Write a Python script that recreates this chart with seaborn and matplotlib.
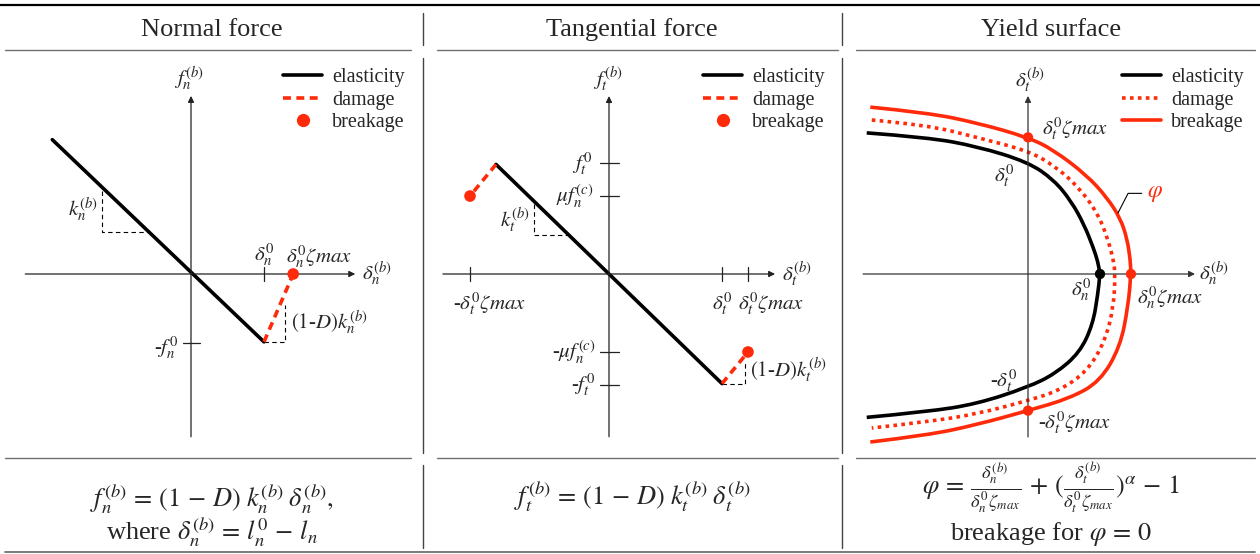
import matplotlib
matplotlib.use("Agg")
import matplotlib.pyplot as plt
from matplotlib.lines import Line2D
from matplotlib.path import Path
from matplotlib.patches import PathPatch
import seaborn as sns

W, H = 1260, 554
RED = "#ff2a0a"
SERIF = ["Liberation Serif", "DejaVu Serif"]

# ---------------- normal force (unit = delta_n^0) ----------------
normal_elastic_x = [-1.90, 1.00]
normal_elastic_y = [1.84, -0.93]
normal_damage_x = [1.00, 1.40]
normal_damage_y = [-0.93, 0.00]
normal_break_x = [1.40]
normal_break_y = [0.00]
normal_xticks = [1.00]
normal_yticks = [-0.95]
normal_slope_x = [-1.22, -1.22, -0.59]
normal_slope_y = [1.14, 0.575, 0.575]
normal_dslope_x = [1.00, 1.29, 1.29]
normal_dslope_y = [-0.93, -0.93, -0.42]

# ---------------- tangential force (unit = delta_t^0) ----------------
tang_elastic_x = [-1.00, 1.00]
tang_elastic_y = [0.97, -0.97]
tang_damage_l_x = [-1.00, -1.23]
tang_damage_l_y = [0.97, 0.69]
tang_damage_r_x = [1.00, 1.23]
tang_damage_r_y = [-0.97, -0.69]
tang_break_x = [-1.23, 1.23]
tang_break_y = [0.69, -0.69]
tang_xticks = [-1.23, 1.00, 1.23]
tang_yticks = [0.98, 0.69, -0.69, -0.98]
tang_slope_x = [-0.66, -0.66, -0.36]
tang_slope_y = [0.62, 0.345, 0.345]
tang_dslope_x = [1.00, 1.20, 1.20]
tang_dslope_y = [-0.97, -0.97, -0.79]

# ---------------- yield surface (x unit = delta_n^0, y unit = delta_t^0) ----------------
yield_elastic_x = [-2.24, -1.40, -0.71, 0.00, 0.36, 0.60, 0.78, 0.91, 0.97, 1.00,
                   0.97, 0.90, 0.72, 0.38, 0.00, -0.71, -1.40, -2.24]
yield_elastic_y = [1.26, 1.22, 1.14, 1.00, 0.84, 0.65, 0.44, 0.23, 0.11, 0.00,
                   -0.18, -0.45, -0.70, -0.89, -1.01, -1.16, -1.23, -1.28]
yield_damage_x = [-2.17, -1.40, -0.71, 0.00, 0.36, 0.70, 0.98, 1.12, 1.19, 1.21,
                  1.19, 1.07, 0.82, 0.44, 0.00, -0.71, -1.40, -2.17]
yield_damage_y = [1.375, 1.33, 1.22, 1.10, 0.97, 0.78, 0.53, 0.29, 0.11, 0.00,
                  -0.29, -0.60, -0.87, -1.04, -1.13, -1.25, -1.32, -1.375]
yield_break_x = [-2.19, -1.40, -0.71, 0.00, 0.35, 0.82, 1.10, 1.28, 1.375, 1.42, 1.43,
                 1.39, 1.28, 1.00, 0.58, 0.00, -0.71, -1.40, -2.19]
yield_break_y = [1.49, 1.44, 1.35, 1.22, 1.11, 0.88, 0.68, 0.50, 0.32, 0.13, 0.00,
                 -0.29, -0.65, -0.96, -1.11, -1.22, -1.345, -1.44, -1.50]
yield_red_dots_x = [0.00, 0.00, 1.43]
yield_red_dots_y = [1.22, -1.22, 0.00]
yield_black_dot_x = [1.00]
yield_black_dot_y = [0.00]
phi_leader_x = [1.25, 1.39, 1.58]
phi_leader_y = [0.545, 0.72, 0.72]

headers = ["Normal force", "Tangential force", "Yield surface"]
legend_labels = ["elasticity", "damage", "breakage"]

sns.set_theme(style="white")
plt.rcParams["font.family"] = SERIF
plt.rcParams["mathtext.fontset"] = "stix"

fig = plt.figure(figsize=(W / 100, H / 100), dpi=100)

# table frame
fa = fig.add_axes([0, 0, 1, 1])
fa.set_xlim(0, W)
fa.set_ylim(H, 0)
fa.axis("off")
fa.plot([0, W], [5, 5], color="black", lw=1.6)
for a, b in [(5, 411), (437, 838), (856, 1255)]:
    fa.plot([a, b], [50, 50], color="#707070", lw=1.0)
    fa.plot([a, b], [458, 458], color="#707070", lw=1.0)
fa.plot([5, 1255], [552, 552], color="#707070", lw=1.3)
for x in [423, 842]:
    for y0, y1 in [(13, 45), (58, 453), (465, 548)]:
        fa.plot([x, x], [y0, y1], color="#444444", lw=1.0)
for xc, t in zip([212, 632, 1051], headers):
    fa.text(xc, 36, t, ha="center", va="baseline", fontsize=19)

FS = 19
fa.text(212, 507, r"$f_n^{(b)}\, =\, (1\, -\, D)\; k_n^{(b)}\; \delta_n^{(b)},$",
        ha="center", va="baseline", fontsize=FS)
fa.text(212, 540, r"where $\delta_n^{(b)}\, =\, l_n^0\, -\, l_n$",
        ha="center", va="baseline", fontsize=FS)
fa.text(632, 505, r"$f_t^{(b)}\, =\, (1\, -\, D)\; k_t^{(b)}\; \delta_t^{(b)}$",
        ha="center", va="baseline", fontsize=FS)
fa.text(1051, 494, r"$\varphi\, =\, \frac{\delta_n^{(b)}}{\delta_n^0\zeta_{max}}\, +\, (\frac{\delta_t^{(b)}}{\delta_t^0\zeta_{max}})^{\alpha}\, -\, 1$",
        ha="center", va="baseline", fontsize=FS)
fa.text(1051, 540, r"breakage for $\varphi\, =\, 0$",
        ha="center", va="baseline", fontsize=FS)


def panel(left, right, ox, oy, sx, sy, top=55, bottom=455):
    ax = fig.add_axes([left / W, 1 - bottom / H, (right - left) / W, (bottom - top) / H])
    ax.set_xlim((left - ox) / sx, (right - ox) / sx)
    ax.set_ylim((oy - bottom) / sy, (oy - top) / sy)
    ax.set_axis_off()
    return ax


def axes_arrows(ax, x0, x1, y0, y1, color="#222222"):
    ap = dict(arrowstyle="-|>", color=color, lw=0.9, mutation_scale=9, shrinkA=0, shrinkB=0)
    ax.annotate("", xy=(x1, 0), xytext=(x0, 0), arrowprops=ap)
    ax.annotate("", xy=(0, y1), xytext=(0, y0), arrowprops=ap)


def add_legend(ax, left_px, third):
    handles = [Line2D([], [], color="black", lw=2.6),
               Line2D([], [], color=RED, lw=2.6, ls=(0, (2.2, 1.5))),
               third]
    ax.legend(handles, legend_labels, loc="upper left",
              bbox_to_anchor=(left_px / W, 1 - 68 / H), bbox_transform=fig.transFigure,
              frameon=False, borderpad=0, borderaxespad=0, handlelength=1.95,
              handletextpad=0.5, labelspacing=0.17, prop=dict(family=SERIF, size=14.5))


def seg(ax, x, y, **kw):
    sns.lineplot(x=x, y=y, sort=False, estimator=None, ax=ax, **kw)


def smooth(ax, xs, ys, **kw):
    # quadratic Bezier path using the read points as control points
    pts = list(zip(xs, ys))
    verts, codes = [pts[0]], [Path.MOVETO]
    for i in range(1, len(pts) - 1):
        if i < len(pts) - 2:
            end = ((pts[i][0] + pts[i + 1][0]) / 2, (pts[i][1] + pts[i + 1][1]) / 2)
        else:
            end = pts[i + 1]
        verts += [pts[i], end]
        codes += [Path.CURVE3, Path.CURVE3]
    ax.add_patch(PathPatch(Path(verts, codes), fill=False, capstyle="butt", **kw))


def lab(ax, x, y, s, ha="center", va="center", size=15, **kw):
    ax.text(x, y, s, ha=ha, va=va, fontsize=size, **kw)


DASH = (0, (2.2, 1.5))
DOT = (0, (1.0, 1.2))
THIN_DASH = (0, (4, 3))
LW = 2.6

# ---- panel 1: normal force ----
ax1 = panel(5, 420, 191, 274, 73, 73)
axes_arrows(ax1, -2.27, 2.25, -2.23, 2.44)
for t in normal_xticks:
    ax1.plot([t, t], [-0.1, 0.1], color="#222222", lw=0.9)
for t in normal_yticks:
    ax1.plot([-0.11, 0.12], [t, t], color="#222222", lw=0.9)
seg(ax1, normal_slope_x, normal_slope_y, color="black", lw=0.8, linestyle=THIN_DASH)
seg(ax1, normal_dslope_x, normal_dslope_y, color="black", lw=0.8, linestyle=THIN_DASH)
seg(ax1, normal_elastic_x, normal_elastic_y, color="black", lw=LW)
seg(ax1, normal_damage_x, normal_damage_y, color=RED, lw=LW, linestyle=DASH)
sns.scatterplot(x=normal_break_x, y=normal_break_y, color=RED, s=70, edgecolor="none", ax=ax1, zorder=5)
lab(ax1, -0.03, 2.68, r"$f_n^{(b)}$")
lab(ax1, 2.34, 0.0, r"$\delta_n^{(b)}$", ha="left")
lab(ax1, 1.01, 0.27, r"$\delta_n^0$")
lab(ax1, 1.30, 0.245, r"$\delta_n^0\zeta max$", ha="left")
lab(ax1, -0.18, -1.01, r"-$f_n^0$", ha="right")
lab(ax1, -1.27, 0.88, r"$k_n^{(b)}$", ha="right")
lab(ax1, 1.37, -0.67, r"$(1$-$D)k_n^{(b)}$", ha="left")
add_legend(ax1, 283, Line2D([], [], color=RED, marker="o", ls="none", ms=8.5))

# ---- panel 2: tangential force ----
ax2 = panel(426, 840, 609, 274, 113, 113)
axes_arrows(ax2, -1.47, 1.47, -1.44, 1.575)
for t in tang_xticks:
    ax2.plot([t, t], [-0.065, 0.065], color="#222222", lw=0.9)
for t in tang_yticks:
    ax2.plot([-0.08, 0.085], [t, t], color="#222222", lw=0.9)
seg(ax2, tang_slope_x, tang_slope_y, color="black", lw=0.8, linestyle=THIN_DASH)
seg(ax2, tang_dslope_x, tang_dslope_y, color="black", lw=0.8, linestyle=THIN_DASH)
seg(ax2, tang_elastic_x, tang_elastic_y, color="black", lw=LW)
seg(ax2, tang_damage_l_x, tang_damage_l_y, color=RED, lw=LW, linestyle=DASH)
seg(ax2, tang_damage_r_x, tang_damage_r_y, color=RED, lw=LW, linestyle=DASH)
sns.scatterplot(x=tang_break_x, y=tang_break_y, color=RED, s=70, edgecolor="none", ax=ax2, zorder=5)
lab(ax2, -0.01, 1.72, r"$f_t^{(b)}$")
lab(ax2, 1.53, 0.0, r"$\delta_t^{(b)}$", ha="left")
tick_labels_y = [r"$f_t^0$", r"$\mu f_n^{(c)}$", r"-$\mu f_n^{(c)}$", r"-$f_t^0$"]
for t, s, dx in zip(tang_yticks, tick_labels_y, [-0.15, -0.14, -0.12, -0.12]):
    lab(ax2, dx, t, s, ha="right")
tick_labels_x = [r"-$\delta_t^0\zeta max$", r"$\delta_t^0$", r"$\delta_t^0\zeta max$"]
for t, s, dx, ha in zip(tang_xticks, tick_labels_x, [-0.15, 0.0, -0.09], ["left", "center", "left"]):
    lab(ax2, t + dx, -0.26, s, ha=ha)
lab(ax2, -0.70, 0.48, r"$k_t^{(b)}$", ha="right")
lab(ax2, 1.25, -0.85, r"$(1$-$D)k_t^{(b)}$", ha="left")
add_legend(ax2, 703, Line2D([], [], color=RED, marker="o", ls="none", ms=8.5))

# ---- panel 3: yield surface ----
ax3 = panel(845, 1258, 1028, 274, 72, 112)
axes_arrows(ax3, -2.29, 2.32, -1.455, 1.59, color="#333333")
smooth(ax3, yield_elastic_x, yield_elastic_y, edgecolor="black", lw=LW)
smooth(ax3, yield_damage_x, yield_damage_y, edgecolor=RED, lw=LW, linestyle=DOT)
smooth(ax3, yield_break_x, yield_break_y, edgecolor=RED, lw=LW)
seg(ax3, phi_leader_x, phi_leader_y, color="black", lw=0.8)
sns.scatterplot(x=yield_red_dots_x, y=yield_red_dots_y, color=RED, s=55, edgecolor="none", ax=ax3, zorder=5)
sns.scatterplot(x=yield_black_dot_x, y=yield_black_dot_y, color="black", s=55, edgecolor="none", ax=ax3, zorder=5)
lab(ax3, 0.03, 1.73, r"$\delta_t^{(b)}$")
lab(ax3, 2.375, 0.0, r"$\delta_n^{(b)}$", ha="left")
lab(ax3, 0.20, 1.30, r"$\delta_t^0\zeta max$", ha="left")
lab(ax3, -0.18, 0.88, r"$\delta_t^0$", ha="right")
lab(ax3, 0.89, -0.14, r"$\delta_n^0$", ha="right")
lab(ax3, 1.52, -0.21, r"$\delta_n^0\zeta max$", ha="left")
lab(ax3, -0.15, -0.95, r"-$\delta_t^0$", ha="right")
lab(ax3, 0.14, -1.33, r"-$\delta_t^0\zeta max$", ha="left")
lab(ax3, 1.76, 0.72, r"$\varphi$", size=17, color=RED)
add_legend(ax3, 1122, Line2D([], [], color=RED, lw=2.6))
# panel 3 legend's damage sample is dotted
ax3.get_legend().legend_handles[1].set_linestyle(DOT)

fig.savefig("out.png", dpi=100)
